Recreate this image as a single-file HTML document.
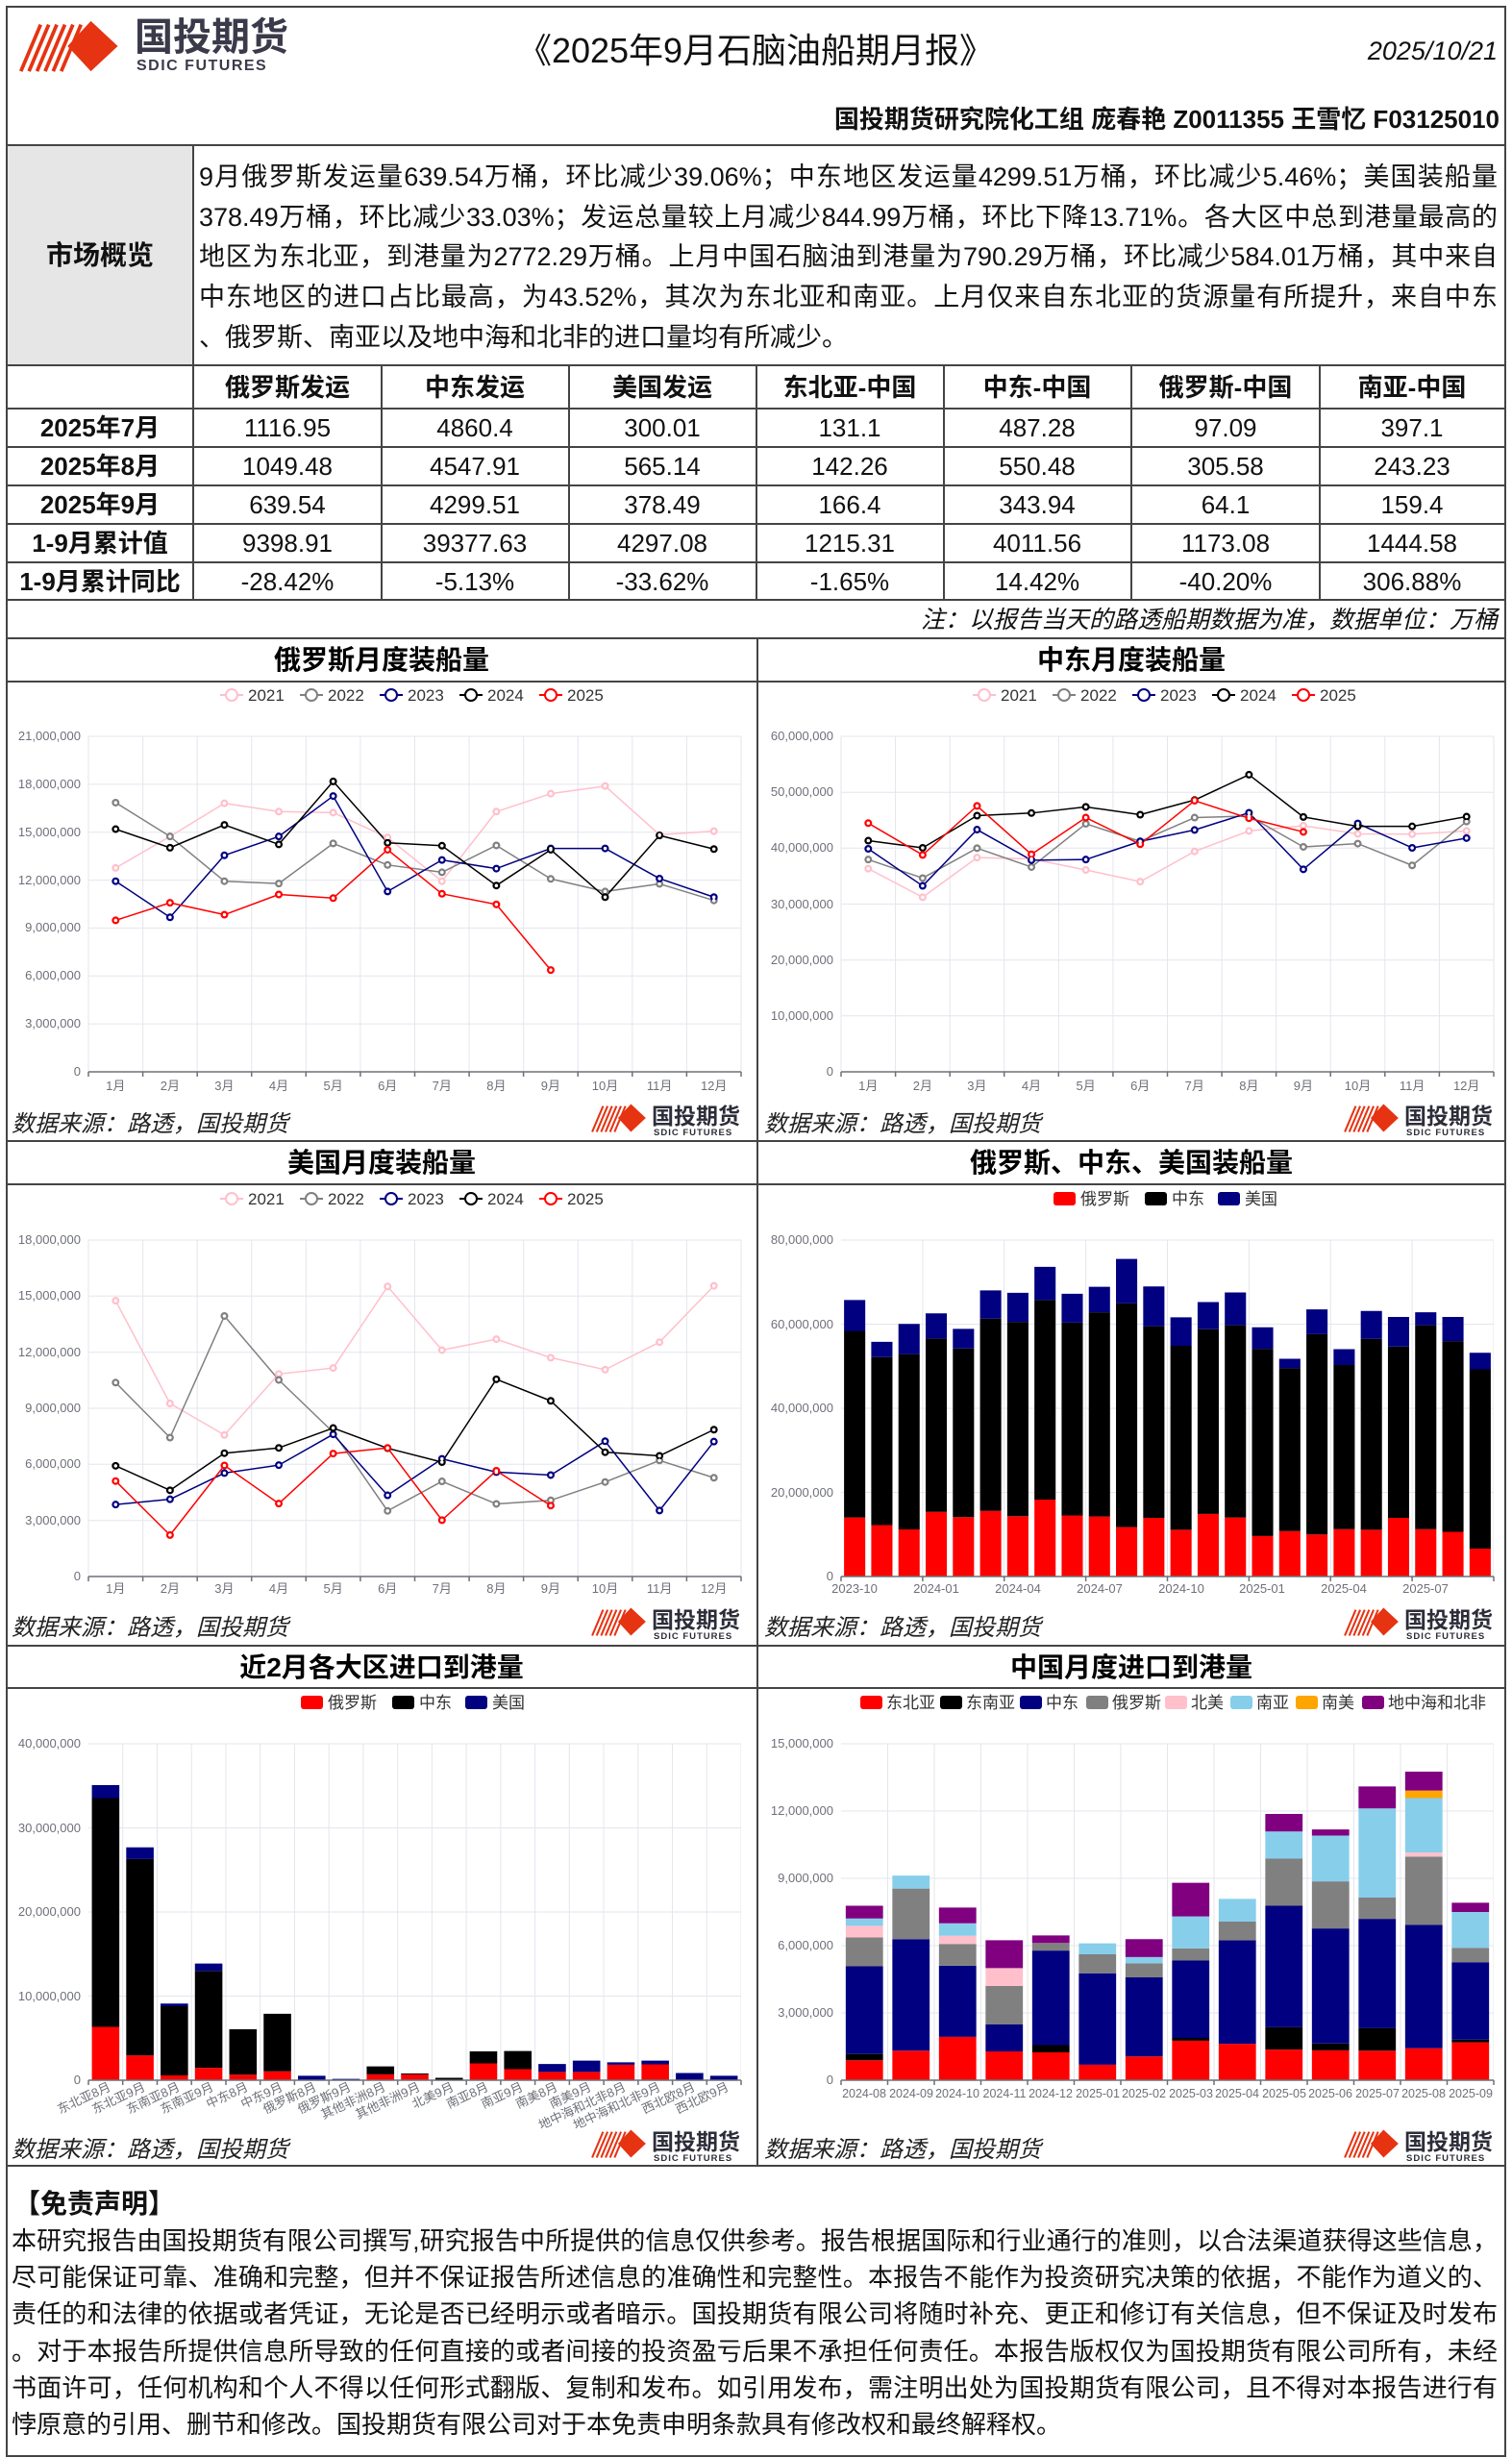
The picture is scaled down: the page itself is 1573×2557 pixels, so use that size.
<!DOCTYPE html>
<html><head><meta charset="utf-8">
<style>
html,body{margin:0;padding:0;background:#fff;}
body{width:1573px;height:2557px;position:relative;overflow:hidden;font-family:"Liberation Sans","Noto Sans CJK SC",sans-serif;}
svg text{font-family:"Liberation Sans","Noto Sans CJK SC",sans-serif;}
.ax{font-size:13px;fill:#6e7079;}
.lg{font-size:17px;fill:#333;}
.tt{font-size:28px;font-weight:bold;fill:#000;}
.src{font-size:24px;font-style:italic;fill:#222;}
.tb{font-size:26px;fill:#111;}
.tbb{font-size:26px;fill:#111;font-weight:bold;}
.ln{fill:none;stroke-width:1.5;vector-effect:non-scaling-stroke;stroke-linejoin:round;}
.mk{fill:none;stroke-width:8;stroke-linecap:round;vector-effect:non-scaling-stroke;}
.mw{fill:none;stroke:#fff;stroke-width:3.5;stroke-linecap:round;vector-effect:non-scaling-stroke;}
.vg{stroke:#e4e6ee;stroke-width:1;vector-effect:non-scaling-stroke;fill:none;}
.jl{position:absolute;white-space:nowrap;text-align:justify;text-align-last:justify;color:#111;}
</style></head><body>
<svg width="1573" height="2557" style="position:absolute;left:0;top:0">
<defs>
<symbol id="lgo" viewBox="0 0 120 60">
<g stroke="#e63312" stroke-width="4">
<line x1="4" y1="58" x2="26" y2="6"/><line x1="13" y1="58" x2="35" y2="6"/><line x1="22" y1="58" x2="44" y2="6"/><line x1="31" y1="58" x2="53" y2="6"/><line x1="40" y1="58" x2="62" y2="6"/><line x1="49" y1="58" x2="71" y2="6"/>
</g>
<polygon points="82,2 112,30 82,58 56,30" fill="#e63312"/>
</symbol>
<g id="plogo">
<use href="#lgo" x="0" y="0" width="62" height="32"/>
<text x="64" y="22" style="font-size:23px;font-weight:bold;fill:#2d2d3a">国投期货</text>
<text x="66" y="34" style="font-size:9.5px;font-weight:bold;fill:#2d2d3a;letter-spacing:1px">SDIC FUTURES</text>
</g>
</defs>

<!-- header -->
<use href="#lgo" x="18" y="20" width="112" height="56"/>
<text x="140" y="52" style="font-size:40px;font-weight:bold;fill:#3a3a4a">国投期货</text>
<text x="142" y="73" style="font-size:16px;font-weight:bold;fill:#3a3a4a;letter-spacing:1.5px">SDIC FUTURES</text>
<text x="786" y="65" text-anchor="middle" style="font-size:36px;fill:#111">《2025年9月石脑油船期月报》</text>
<text x="1558" y="62" text-anchor="end" style="font-size:27px;font-style:italic;fill:#111">2025/10/21</text>
<text x="1560" y="133" text-anchor="end" style="font-size:26px;font-weight:bold;fill:#111">国投期货研究院化工组 庞春艳 Z0011355 王雪忆 F03125010</text>

<!-- overview bg -->
<rect x="7" y="151" width="194" height="229" fill="#e6e6e6"/>
<text x="104" y="275" text-anchor="middle" style="font-size:28px;font-weight:bold;fill:#111">市场概览</text>

<!-- table -->
<g text-anchor="middle">
<g class="tbb">
<text x="299" y="412">俄罗斯发运</text><text x="494" y="412">中东发运</text><text x="689" y="412">美国发运</text><text x="884" y="412">东北亚-中国</text><text x="1079" y="412">中东-中国</text><text x="1275" y="412">俄罗斯-中国</text><text x="1469" y="412">南亚-中国</text>
<text x="104" y="454">2025年7月</text><text x="104" y="494">2025年8月</text><text x="104" y="534">2025年9月</text><text x="104" y="574">1-9月累计值</text><text x="104" y="614">1-9月累计同比</text>
</g>
<g class="tb">
<text x="299" y="454">1116.95</text><text x="494" y="454">4860.4</text><text x="689" y="454">300.01</text><text x="884" y="454">131.1</text><text x="1079" y="454">487.28</text><text x="1275" y="454">97.09</text><text x="1469" y="454">397.1</text>
<text x="299" y="494">1049.48</text><text x="494" y="494">4547.91</text><text x="689" y="494">565.14</text><text x="884" y="494">142.26</text><text x="1079" y="494">550.48</text><text x="1275" y="494">305.58</text><text x="1469" y="494">243.23</text>
<text x="299" y="534">639.54</text><text x="494" y="534">4299.51</text><text x="689" y="534">378.49</text><text x="884" y="534">166.4</text><text x="1079" y="534">343.94</text><text x="1275" y="534">64.1</text><text x="1469" y="534">159.4</text>
<text x="299" y="574">9398.91</text><text x="494" y="574">39377.63</text><text x="689" y="574">4297.08</text><text x="884" y="574">1215.31</text><text x="1079" y="574">4011.56</text><text x="1275" y="574">1173.08</text><text x="1469" y="574">1444.58</text>
<text x="299" y="614">-28.42%</text><text x="494" y="614">-5.13%</text><text x="689" y="614">-33.62%</text><text x="884" y="614">-1.65%</text><text x="1079" y="614">14.42%</text><text x="1275" y="614">-40.20%</text><text x="1469" y="614">306.88%</text>
</g>
</g>
<text x="1558" y="653" text-anchor="end" style="font-size:25px;font-style:italic;fill:#111">注：以报告当天的路透船期数据为准，数据单位：万桶</text>

<!-- borders -->
<g stroke="#444" stroke-width="2" fill="none">
<rect x="7" y="7" width="1559" height="2548"/>
<line x1="7" y1="151" x2="1566" y2="151"/>
<line x1="7" y1="380" x2="1566" y2="380"/>
<line x1="7" y1="425" x2="1566" y2="425"/>
<line x1="7" y1="465" x2="1566" y2="465"/>
<line x1="7" y1="505" x2="1566" y2="505"/>
<line x1="7" y1="545" x2="1566" y2="545"/>
<line x1="7" y1="585" x2="1566" y2="585"/>
<line x1="7" y1="624" x2="1566" y2="624"/>
<line x1="7" y1="664" x2="1566" y2="664"/>
<line x1="7" y1="709" x2="1566" y2="709"/>
<line x1="7" y1="1187" x2="1566" y2="1187"/>
<line x1="7" y1="1232" x2="1566" y2="1232"/>
<line x1="7" y1="1712" x2="1566" y2="1712"/>
<line x1="7" y1="1756" x2="1566" y2="1756"/>
<line x1="7" y1="2253" x2="1566" y2="2253"/>
<line x1="201" y1="151" x2="201" y2="624"/>
<line x1="397" y1="380" x2="397" y2="624"/><line x1="592" y1="380" x2="592" y2="624"/><line x1="787" y1="380" x2="787" y2="624"/><line x1="982" y1="380" x2="982" y2="624"/><line x1="1177" y1="380" x2="1177" y2="624"/><line x1="1373" y1="380" x2="1373" y2="624"/>
<line x1="788" y1="664" x2="788" y2="2253"/>
</g>

<!-- titles -->
<g text-anchor="middle" class="tt">
<text x="397" y="696">俄罗斯月度装船量</text><text x="1177" y="696">中东月度装船量</text>
<text x="397" y="1219">美国月度装船量</text><text x="1177" y="1219">俄罗斯、中东、美国装船量</text>
<text x="397" y="1744">近2月各大区进口到港量</text><text x="1177" y="1744">中国月度进口到港量</text>
</g>
<!-- sources & logos -->
<g class="src">
<text x="12" y="1177">数据来源：路透，国投期货</text><text x="795" y="1177">数据来源：路透，国投期货</text>
<text x="12" y="1701">数据来源：路透，国投期货</text><text x="795" y="1701">数据来源：路透，国投期货</text>
<text x="12" y="2244">数据来源：路透，国投期货</text><text x="795" y="2244">数据来源：路透，国投期货</text>
</g>
<use href="#plogo" x="614" y="1147"/><use href="#plogo" x="1397" y="1147"/>
<use href="#plogo" x="614" y="1671"/><use href="#plogo" x="1397" y="1671"/>
<use href="#plogo" x="614" y="2214"/><use href="#plogo" x="1397" y="2214"/>

<!-- line legends -->
<g id="leg1">
<g fill="#fff" stroke-width="2">
<line x1="229" y1="723" x2="253" y2="723" stroke="#ffc0cb"/><circle cx="241" cy="723" r="6" stroke="#ffc0cb"/>
<line x1="312" y1="723" x2="336" y2="723" stroke="#808080"/><circle cx="324" cy="723" r="6" stroke="#808080"/>
<line x1="395" y1="723" x2="419" y2="723" stroke="#000080"/><circle cx="407" cy="723" r="6" stroke="#000080"/>
<line x1="478" y1="723" x2="502" y2="723" stroke="#000"/><circle cx="490" cy="723" r="6" stroke="#000"/>
<line x1="561" y1="723" x2="585" y2="723" stroke="#f00"/><circle cx="573" cy="723" r="6" stroke="#f00"/>
</g>
<g class="lg"><text x="258" y="729">2021</text><text x="341" y="729">2022</text><text x="424" y="729">2023</text><text x="507" y="729">2024</text><text x="590" y="729">2025</text></g>
</g>
<use href="#leg1" x="783" y="0"/>
<use href="#leg1" x="0" y="524"/>

<!-- bar legends -->
<g class="lg">
<rect x="1096" y="1240" width="23" height="14" rx="3" fill="#f00"/><text x="1124" y="1253">俄罗斯</text>
<rect x="1191" y="1240" width="23" height="14" rx="3" fill="#000"/><text x="1219" y="1253">中东</text>
<rect x="1267" y="1240" width="23" height="14" rx="3" fill="#000080"/><text x="1295" y="1253">美国</text>
<rect x="313" y="1764" width="23" height="14" rx="3" fill="#f00"/><text x="341" y="1777">俄罗斯</text>
<rect x="408" y="1764" width="23" height="14" rx="3" fill="#000"/><text x="436" y="1777">中东</text>
<rect x="484" y="1764" width="23" height="14" rx="3" fill="#000080"/><text x="512" y="1777">美国</text>
<rect x="895" y="1764" width="23" height="14" rx="3" fill="#f00"/><text x="922" y="1777">东北亚</text>
<rect x="978" y="1764" width="23" height="14" rx="3" fill="#000"/><text x="1005" y="1777">东南亚</text>
<rect x="1061" y="1764" width="23" height="14" rx="3" fill="#000080"/><text x="1088" y="1777">中东</text>
<rect x="1130" y="1764" width="23" height="14" rx="3" fill="#808080"/><text x="1157" y="1777">俄罗斯</text>
<rect x="1212" y="1764" width="23" height="14" rx="3" fill="#ffc0cb"/><text x="1239" y="1777">北美</text>
<rect x="1280" y="1764" width="23" height="14" rx="3" fill="#87ceeb"/><text x="1307" y="1777">南亚</text>
<rect x="1348" y="1764" width="23" height="14" rx="3" fill="#ffa500"/><text x="1375" y="1777">南美</text>
<rect x="1417" y="1764" width="23" height="14" rx="3" fill="#800080"/><text x="1444" y="1777">地中海和北非</text>
</g>

<!-- horizontal grids -->
<g stroke="#e4e6ee" stroke-width="1">
<path d="M92 766H771M92 815.9H771M92 865.7H771M92 915.6H771M92 965.4H771M92 1015.3H771M92 1065.1H771"/>
<path d="M875 766H1554M875 824.2H1554M875 882.3H1554M875 940.5H1554M875 998.7H1554M875 1056.8H1554"/>
<path d="M92 1290H771M92 1348.3H771M92 1406.7H771M92 1465H771M92 1523.3H771M92 1581.7H771"/>
<path d="M875 1290H1554M875 1377.5H1554M875 1465H1554M875 1552.5H1554"/>
<path d="M92 1814H771M92 1901.5H771M92 1989H771M92 2076.5H771"/>
<path d="M875 1814H1554M875 1884H1554M875 1954H1554M875 2024H1554M875 2094H1554"/>
</g>

<!-- y labels -->
<g class="ax" text-anchor="end">
<text x="84" y="770">21,000,000</text><text x="84" y="820">18,000,000</text><text x="84" y="870">15,000,000</text><text x="84" y="920">12,000,000</text><text x="84" y="969">9,000,000</text><text x="84" y="1019">6,000,000</text><text x="84" y="1069">3,000,000</text><text x="84" y="1119">0</text>
<text x="867" y="770">60,000,000</text><text x="867" y="828">50,000,000</text><text x="867" y="886">40,000,000</text><text x="867" y="945">30,000,000</text><text x="867" y="1003">20,000,000</text><text x="867" y="1061">10,000,000</text><text x="867" y="1119">0</text>
<text x="84" y="1294">18,000,000</text><text x="84" y="1352">15,000,000</text><text x="84" y="1411">12,000,000</text><text x="84" y="1469">9,000,000</text><text x="84" y="1527">6,000,000</text><text x="84" y="1586">3,000,000</text><text x="84" y="1644">0</text>
<text x="867" y="1294">80,000,000</text><text x="867" y="1382">60,000,000</text><text x="867" y="1469">40,000,000</text><text x="867" y="1557">20,000,000</text><text x="867" y="1644">0</text>
<text x="84" y="1818">40,000,000</text><text x="84" y="1906">30,000,000</text><text x="84" y="1993">20,000,000</text><text x="84" y="2081">10,000,000</text><text x="84" y="2168">0</text>
<text x="867" y="1818">15,000,000</text><text x="867" y="1888">12,000,000</text><text x="867" y="1958">9,000,000</text><text x="867" y="2028">6,000,000</text><text x="867" y="2098">3,000,000</text><text x="867" y="2168">0</text>
</g>

<!-- month labels -->
<g id="mon" class="ax" text-anchor="middle">
<text x="120.3" y="1134">1月</text><text x="176.9" y="1134">2月</text><text x="233.4" y="1134">3月</text><text x="290" y="1134">4月</text><text x="346.6" y="1134">5月</text><text x="403.2" y="1134">6月</text><text x="459.8" y="1134">7月</text><text x="516.4" y="1134">8月</text><text x="572.9" y="1134">9月</text><text x="629.5" y="1134">10月</text><text x="686.1" y="1134">11月</text><text x="742.7" y="1134">12月</text>
</g>
<use href="#mon" x="783" y="0"/>
<use href="#mon" x="0" y="523"/>
<g class="ax" text-anchor="middle">
<text x="889" y="1657">2023-10</text><text x="974" y="1657">2024-01</text><text x="1059" y="1657">2024-04</text><text x="1144" y="1657">2024-07</text><text x="1229" y="1657">2024-10</text><text x="1313" y="1657">2025-01</text><text x="1398" y="1657">2025-04</text><text x="1483" y="1657">2025-07</text>
</g>
<g style="font-size:12.5px;fill:#6e7079" text-anchor="middle">
<text x="899" y="2182">2024-08</text><text x="948" y="2182">2024-09</text><text x="996" y="2182">2024-10</text><text x="1045" y="2182">2024-11</text><text x="1093" y="2182">2024-12</text><text x="1142" y="2182">2025-01</text><text x="1190" y="2182">2025-02</text><text x="1239" y="2182">2025-03</text><text x="1287" y="2182">2025-04</text><text x="1336" y="2182">2025-05</text><text x="1384" y="2182">2025-06</text><text x="1433" y="2182">2025-07</text><text x="1481" y="2182">2025-08</text><text x="1530" y="2182">2025-09</text>
</g>
<g class="ax" text-anchor="end">
<text transform="translate(116,2174) rotate(-25)">东北亚8月</text>
<text transform="translate(152,2174) rotate(-25)">东北亚9月</text>
<text transform="translate(188,2174) rotate(-25)">东南亚8月</text>
<text transform="translate(223,2174) rotate(-25)">东南亚9月</text>
<text transform="translate(259,2174) rotate(-25)">中东8月</text>
<text transform="translate(295,2174) rotate(-25)">中东9月</text>
<text transform="translate(330,2174) rotate(-25)">俄罗斯8月</text>
<text transform="translate(366,2174) rotate(-25)">俄罗斯9月</text>
<text transform="translate(402,2174) rotate(-25)">其他非洲8月</text>
<text transform="translate(438,2174) rotate(-25)">其他非洲9月</text>
<text transform="translate(473,2174) rotate(-25)">北美9月</text>
<text transform="translate(509,2174) rotate(-25)">南亚8月</text>
<text transform="translate(545,2174) rotate(-25)">南亚9月</text>
<text transform="translate(581,2174) rotate(-25)">南美8月</text>
<text transform="translate(616,2174) rotate(-25)">南美9月</text>
<text transform="translate(652,2174) rotate(-25)">地中海和北非8月</text>
<text transform="translate(688,2174) rotate(-25)">地中海和北非9月</text>
<text transform="translate(724,2174) rotate(-25)">西北欧8月</text>
<text transform="translate(759,2174) rotate(-25)">西北欧9月</text>
</g>

<!-- Russia line chart -->
<svg x="92" y="766" width="679" height="349" viewBox="0 338 12 1012" preserveAspectRatio="none" overflow="visible">
<path class="vg" d="M0 338V1350M1 338V1350M2 338V1350M3 338V1350M4 338V1350M5 338V1350M6 338V1350M7 338V1350M8 338V1350M9 338V1350M10 338V1350M11 338V1350M12 338V1350"/>
<polyline class="ln" stroke="#ffc0cb" points="0.5,735 1.5,640 2.5,540 3.5,565 4.5,568 5.5,643 6.5,775 7.5,565 8.5,511 9.5,488 10.5,635 11.5,624"/>
<polyline class="ln" stroke="#808080" points="0.5,538 1.5,640 2.5,775 3.5,782 4.5,661 5.5,726 6.5,748 7.5,667 8.5,768 9.5,806 10.5,783 11.5,833"/>
<polyline class="ln" stroke="#000080" points="0.5,775 1.5,884 2.5,697 3.5,640 4.5,518 5.5,806 6.5,711 7.5,737 8.5,676 9.5,676 10.5,767 11.5,823"/>
<polyline class="ln" stroke="#000" points="0.5,618 1.5,674 2.5,605 3.5,664 4.5,474 5.5,659 6.5,668 7.5,788 8.5,680 9.5,823 10.5,637 11.5,678"/>
<polyline class="ln" stroke="#f00" points="0.5,893 1.5,840 2.5,876 3.5,815 4.5,826 5.5,680 6.5,813 7.5,845 8.5,1043"/>
<path class="mk" stroke="#ffc0cb" d="M0.5 735h0M1.5 640h0M2.5 540h0M3.5 565h0M4.5 568h0M5.5 643h0M6.5 775h0M7.5 565h0M8.5 511h0M9.5 488h0M10.5 635h0M11.5 624h0"/>
<path class="mk" stroke="#808080" d="M0.5 538h0M1.5 640h0M2.5 775h0M3.5 782h0M4.5 661h0M5.5 726h0M6.5 748h0M7.5 667h0M8.5 768h0M9.5 806h0M10.5 783h0M11.5 833h0"/>
<path class="mk" stroke="#000080" d="M0.5 775h0M1.5 884h0M2.5 697h0M3.5 640h0M4.5 518h0M5.5 806h0M6.5 711h0M7.5 737h0M8.5 676h0M9.5 676h0M10.5 767h0M11.5 823h0"/>
<path class="mk" stroke="#000" d="M0.5 618h0M1.5 674h0M2.5 605h0M3.5 664h0M4.5 474h0M5.5 659h0M6.5 668h0M7.5 788h0M8.5 680h0M9.5 823h0M10.5 637h0M11.5 678h0"/>
<path class="mk" stroke="#f00" d="M0.5 893h0M1.5 840h0M2.5 876h0M3.5 815h0M4.5 826h0M5.5 680h0M6.5 813h0M7.5 845h0M8.5 1043h0"/>
<path class="mw" d="M0.5 735h0M1.5 640h0M2.5 540h0M3.5 565h0M4.5 568h0M5.5 643h0M6.5 775h0M7.5 565h0M8.5 511h0M9.5 488h0M10.5 635h0M11.5 624h0M0.5 538h0M1.5 640h0M2.5 775h0M3.5 782h0M4.5 661h0M5.5 726h0M6.5 748h0M7.5 667h0M8.5 768h0M9.5 806h0M10.5 783h0M11.5 833h0M0.5 775h0M1.5 884h0M2.5 697h0M3.5 640h0M4.5 518h0M5.5 806h0M6.5 711h0M7.5 737h0M8.5 676h0M9.5 676h0M10.5 767h0M11.5 823h0M0.5 618h0M1.5 674h0M2.5 605h0M3.5 664h0M4.5 474h0M5.5 659h0M6.5 668h0M7.5 788h0M8.5 680h0M9.5 823h0M10.5 637h0M11.5 678h0M0.5 893h0M1.5 840h0M2.5 876h0M3.5 815h0M4.5 826h0M5.5 680h0M6.5 813h0M7.5 845h0M8.5 1043h0"/>
</svg>

<!-- Middle East line chart -->
<svg x="875" y="766" width="679" height="349" viewBox="0 313 12 1032" preserveAspectRatio="none" overflow="visible">
<path class="vg" d="M0 313V1345M1 313V1345M2 313V1345M3 313V1345M4 313V1345M5 313V1345M6 313V1345M7 313V1345M8 313V1345M9 313V1345M10 313V1345M11 313V1345M12 313V1345"/>
<polyline class="ln" stroke="#ffc0cb" points="0.5,720 1.5,808 2.5,686 3.5,690 4.5,724 5.5,760 6.5,667 7.5,604 8.5,588 9.5,613 10.5,614 11.5,604"/>
<polyline class="ln" stroke="#808080" points="0.5,692 1.5,749 2.5,657 3.5,715 4.5,582 5.5,636 6.5,563 7.5,558 8.5,653 9.5,643 10.5,710 11.5,575"/>
<polyline class="ln" stroke="#000080" points="0.5,659 1.5,773 2.5,600 3.5,694 4.5,692 5.5,636 6.5,601 7.5,548 8.5,722 9.5,581 10.5,656 11.5,626"/>
<polyline class="ln" stroke="#000" points="0.5,634 1.5,656 2.5,557 3.5,549 4.5,530 5.5,554 6.5,509 7.5,431 8.5,561 9.5,590 10.5,590 11.5,560"/>
<polyline class="ln" stroke="#f00" points="0.5,580 1.5,678 2.5,527 3.5,676 4.5,563 5.5,645 6.5,511 7.5,565 8.5,607"/>
<path class="mk" stroke="#ffc0cb" d="M0.5 720h0M1.5 808h0M2.5 686h0M3.5 690h0M4.5 724h0M5.5 760h0M6.5 667h0M7.5 604h0M8.5 588h0M9.5 613h0M10.5 614h0M11.5 604h0"/>
<path class="mk" stroke="#808080" d="M0.5 692h0M1.5 749h0M2.5 657h0M3.5 715h0M4.5 582h0M5.5 636h0M6.5 563h0M7.5 558h0M8.5 653h0M9.5 643h0M10.5 710h0M11.5 575h0"/>
<path class="mk" stroke="#000080" d="M0.5 659h0M1.5 773h0M2.5 600h0M3.5 694h0M4.5 692h0M5.5 636h0M6.5 601h0M7.5 548h0M8.5 722h0M9.5 581h0M10.5 656h0M11.5 626h0"/>
<path class="mk" stroke="#000" d="M0.5 634h0M1.5 656h0M2.5 557h0M3.5 549h0M4.5 530h0M5.5 554h0M6.5 509h0M7.5 431h0M8.5 561h0M9.5 590h0M10.5 590h0M11.5 560h0"/>
<path class="mk" stroke="#f00" d="M0.5 580h0M1.5 678h0M2.5 527h0M3.5 676h0M4.5 563h0M5.5 645h0M6.5 511h0M7.5 565h0M8.5 607h0"/>
<path class="mw" d="M0.5 720h0M1.5 808h0M2.5 686h0M3.5 690h0M4.5 724h0M5.5 760h0M6.5 667h0M7.5 604h0M8.5 588h0M9.5 613h0M10.5 614h0M11.5 604h0M0.5 692h0M1.5 749h0M2.5 657h0M3.5 715h0M4.5 582h0M5.5 636h0M6.5 563h0M7.5 558h0M8.5 653h0M9.5 643h0M10.5 710h0M11.5 575h0M0.5 659h0M1.5 773h0M2.5 600h0M3.5 694h0M4.5 692h0M5.5 636h0M6.5 601h0M7.5 548h0M8.5 722h0M9.5 581h0M10.5 656h0M11.5 626h0M0.5 634h0M1.5 656h0M2.5 557h0M3.5 549h0M4.5 530h0M5.5 554h0M6.5 509h0M7.5 431h0M8.5 561h0M9.5 590h0M10.5 590h0M11.5 560h0M0.5 580h0M1.5 678h0M2.5 527h0M3.5 676h0M4.5 563h0M5.5 645h0M6.5 511h0M7.5 565h0M8.5 607h0"/>
</svg>

<!-- US line chart -->
<svg x="92" y="1290" width="679" height="350" viewBox="0 320 12 1015" preserveAspectRatio="none" overflow="visible">
<path class="vg" d="M0 320V1335M1 320V1335M2 320V1335M3 320V1335M4 320V1335M5 320V1335M6 320V1335M7 320V1335M8 320V1335M9 320V1335M10 320V1335M11 320V1335M12 320V1335"/>
<polyline class="ln" stroke="#ffc0cb" points="0.5,503 1.5,813 2.5,908 3.5,724 4.5,706 5.5,460 6.5,652 7.5,619 8.5,675 9.5,711 10.5,628 11.5,458"/>
<polyline class="ln" stroke="#808080" points="0.5,750 1.5,916 2.5,549 3.5,742 4.5,900 5.5,1137 6.5,1048 7.5,1116 8.5,1105 9.5,1050 10.5,985 11.5,1037"/>
<polyline class="ln" stroke="#000080" points="0.5,1118 1.5,1102 2.5,1023 3.5,999 4.5,906 5.5,1090 6.5,980 7.5,1020 8.5,1029 9.5,927 10.5,1136 11.5,928"/>
<polyline class="ln" stroke="#000" points="0.5,1001 1.5,1075 2.5,963 3.5,947 4.5,887 5.5,948 6.5,990 7.5,740 8.5,805 9.5,960 10.5,971 11.5,892"/>
<polyline class="ln" stroke="#f00" points="0.5,1047 1.5,1210 2.5,1000 3.5,1115 4.5,964 5.5,947 6.5,1165 7.5,1016 8.5,1121"/>
<path class="mk" stroke="#ffc0cb" d="M0.5 503h0M1.5 813h0M2.5 908h0M3.5 724h0M4.5 706h0M5.5 460h0M6.5 652h0M7.5 619h0M8.5 675h0M9.5 711h0M10.5 628h0M11.5 458h0"/>
<path class="mk" stroke="#808080" d="M0.5 750h0M1.5 916h0M2.5 549h0M3.5 742h0M5.5 1137h0M6.5 1048h0M7.5 1116h0M8.5 1105h0M9.5 1050h0M10.5 985h0M11.5 1037h0"/>
<path class="mk" stroke="#000080" d="M0.5 1118h0M1.5 1102h0M2.5 1023h0M3.5 999h0M4.5 906h0M5.5 1090h0M6.5 980h0M7.5 1020h0M8.5 1029h0M9.5 927h0M10.5 1136h0M11.5 928h0"/>
<path class="mk" stroke="#000" d="M0.5 1001h0M1.5 1075h0M2.5 963h0M3.5 947h0M4.5 887h0M5.5 948h0M6.5 990h0M7.5 740h0M8.5 805h0M9.5 960h0M10.5 971h0M11.5 892h0"/>
<path class="mk" stroke="#f00" d="M0.5 1047h0M1.5 1210h0M2.5 1000h0M3.5 1115h0M4.5 964h0M5.5 947h0M6.5 1165h0M7.5 1016h0M8.5 1121h0"/>
<path class="mw" d="M0.5 503h0M1.5 813h0M2.5 908h0M3.5 724h0M4.5 706h0M5.5 460h0M6.5 652h0M7.5 619h0M8.5 675h0M9.5 711h0M10.5 628h0M11.5 458h0M0.5 750h0M1.5 916h0M2.5 549h0M3.5 742h0M5.5 1137h0M6.5 1048h0M7.5 1116h0M8.5 1105h0M9.5 1050h0M10.5 985h0M11.5 1037h0M0.5 1118h0M1.5 1102h0M2.5 1023h0M3.5 999h0M4.5 906h0M5.5 1090h0M6.5 980h0M7.5 1020h0M8.5 1029h0M9.5 927h0M10.5 1136h0M11.5 928h0M0.5 1001h0M1.5 1075h0M2.5 963h0M3.5 947h0M4.5 887h0M5.5 948h0M6.5 990h0M7.5 740h0M8.5 805h0M9.5 960h0M10.5 971h0M11.5 892h0M0.5 1047h0M1.5 1210h0M2.5 1000h0M3.5 1115h0M4.5 964h0M5.5 947h0M6.5 1165h0M7.5 1016h0M8.5 1121h0"/>
</svg>

<!-- Russia/ME/US stacked bars -->
<svg x="875" y="1290" width="679" height="350" viewBox="0 320 24 1015" preserveAspectRatio="none">
<path class="vg" d="M3 320V1335M6 320V1335M9 320V1335M12 320V1335M15 320V1335M18 320V1335M21 320V1335M24 320V1335"/>
<path fill="#f00" d="M0.11 1157h.78V1335h-.78ZM1.11 1180h.78V1335h-.78ZM2.11 1193h.78V1335h-.78ZM3.11 1140h.78V1335h-.78ZM4.11 1156h.78V1335h-.78ZM5.11 1137h.78V1335h-.78ZM6.11 1153h.78V1335h-.78ZM7.11 1103h.78V1335h-.78ZM8.11 1151h.78V1335h-.78ZM9.11 1154h.78V1335h-.78ZM10.11 1186h.78V1335h-.78ZM11.11 1158h.78V1335h-.78ZM12.11 1194h.78V1335h-.78ZM13.11 1146h.78V1335h-.78ZM14.11 1157h.78V1335h-.78ZM15.11 1213h.78V1335h-.78ZM16.11 1198h.78V1335h-.78ZM17.11 1208h.78V1335h-.78ZM18.11 1192h.78V1335h-.78ZM19.11 1194h.78V1335h-.78ZM20.11 1158h.78V1335h-.78ZM21.11 1192h.78V1335h-.78ZM22.11 1200h.78V1335h-.78ZM23.11 1251h.78V1335h-.78Z"/>
<path fill="#000" d="M0.11 594h.78V1157h-.78ZM1.11 673h.78V1180h-.78ZM2.11 664h.78V1193h-.78ZM3.11 617h.78V1140h-.78ZM4.11 647h.78V1156h-.78ZM5.11 557h.78V1137h-.78ZM6.11 567h.78V1153h-.78ZM7.11 501h.78V1103h-.78ZM8.11 569h.78V1151h-.78ZM9.11 538h.78V1154h-.78ZM10.11 511h.78V1186h-.78ZM11.11 580h.78V1158h-.78ZM12.11 639h.78V1194h-.78ZM13.11 589h.78V1146h-.78ZM14.11 577h.78V1157h-.78ZM15.11 648h.78V1213h-.78ZM16.11 706h.78V1198h-.78ZM17.11 604h.78V1208h-.78ZM18.11 697h.78V1192h-.78ZM19.11 618h.78V1194h-.78ZM20.11 641h.78V1158h-.78ZM21.11 577h.78V1192h-.78ZM22.11 625h.78V1200h-.78ZM23.11 710h.78V1251h-.78Z"/>
<path fill="#000080" d="M0.11 501h.78V594h-.78ZM1.11 627h.78V673h-.78ZM2.11 573h.78V664h-.78ZM3.11 541h.78V617h-.78ZM4.11 588h.78V647h-.78ZM5.11 472h.78V557h-.78ZM6.11 479h.78V567h-.78ZM7.11 401h.78V501h-.78ZM8.11 482h.78V569h-.78ZM9.11 461h.78V538h-.78ZM10.11 377h.78V511h-.78ZM11.11 460h.78V580h-.78ZM12.11 553h.78V639h-.78ZM13.11 507h.78V589h-.78ZM14.11 478h.78V577h-.78ZM15.11 583h.78V648h-.78ZM16.11 678h.78V706h-.78ZM17.11 529h.78V604h-.78ZM18.11 649h.78V697h-.78ZM19.11 534h.78V618h-.78ZM20.11 552h.78V641h-.78ZM21.11 538h.78V577h-.78ZM22.11 552h.78V625h-.78ZM23.11 660h.78V710h-.78Z"/>
</svg>

<!-- near 2 months by region -->
<svg x="92" y="1814" width="679" height="350" viewBox="0 320 19 978" preserveAspectRatio="none">
<path class="vg" d="M1 320V1298M2 320V1298M3 320V1298M4 320V1298M5 320V1298M6 320V1298M7 320V1298M8 320V1298M9 320V1298M10 320V1298M11 320V1298M12 320V1298M13 320V1298M14 320V1298M15 320V1298M16 320V1298M17 320V1298M18 320V1298M19 320V1298"/>
<path fill="#f00" d="M0.1 1143h.8V1298h-.8ZM1.1 1226h.8V1298h-.8ZM2.1 1284h.8V1298h-.8ZM3.1 1262h.8V1298h-.8ZM4.1 1282h.8V1298h-.8ZM5.1 1272h.8V1298h-.8ZM8.1 1281h.8V1298h-.8ZM9.1 1281h.8V1298h-.8ZM11.1 1249h.8V1298h-.8ZM12.1 1266h.8V1298h-.8ZM13.1 1274h.8V1298h-.8ZM14.1 1274h.8V1298h-.8ZM15.1 1253h.8V1298h-.8ZM16.1 1252h.8V1298h-.8Z"/>
<path fill="#000" d="M0.1 478h.8V1143h-.8ZM1.1 655h.8V1226h-.8ZM2.1 1083h.8V1284h-.8ZM3.1 980h.8V1262h-.8ZM4.1 1150h.8V1282h-.8ZM5.1 1105h.8V1272h-.8ZM8.1 1258h.8V1281h-.8ZM9.1 1278h.8V1281h-.8ZM10.1 1291h.8V1298h-.8ZM11.1 1214h.8V1249h-.8ZM12.1 1213h.8V1266h-.8Z"/>
<path fill="#000080" d="M0.1 440h.8V478h-.8ZM1.1 621h.8V655h-.8ZM2.1 1075h.8V1083h-.8ZM3.1 959h.8V980h-.8ZM6.1 1285h.8V1298h-.8ZM7.1 1294h.8V1298h-.8ZM13.1 1251h.8V1274h-.8ZM14.1 1241h.8V1274h-.8ZM15.1 1246h.8V1253h-.8ZM16.1 1241h.8V1252h-.8ZM17.1 1277h.8V1298h-.8ZM18.1 1285h.8V1298h-.8Z"/>
</svg>

<!-- China monthly -->
<svg x="875" y="1814" width="679" height="350" viewBox="0 320 14 978" preserveAspectRatio="none">
<path class="vg" d="M1 320V1298M2 320V1298M3 320V1298M4 320V1298M5 320V1298M6 320V1298M7 320V1298M8 320V1298M9 320V1298M10 320V1298M11 320V1298M12 320V1298M13 320V1298M14 320V1298"/>
<path fill="#f00" d="M0.1 1240h.8V1298h-.8ZM1.1 1212h.8V1298h-.8ZM2.1 1172h.8V1298h-.8ZM3.1 1214h.8V1298h-.8ZM4.1 1217h.8V1298h-.8ZM5.1 1253h.8V1298h-.8ZM6.1 1229h.8V1298h-.8ZM7.1 1183h.8V1298h-.8ZM8.1 1192h.8V1298h-.8ZM9.1 1209h.8V1298h-.8ZM10.1 1211h.8V1298h-.8ZM11.1 1212h.8V1298h-.8ZM12.1 1205h.8V1298h-.8ZM13.1 1188h.8V1298h-.8Z"/>
<path fill="#000" d="M0.1 1222h.8V1240h-.8ZM4.1 1196h.8V1217h-.8ZM7.1 1175h.8V1183h-.8ZM9.1 1144h.8V1209h-.8ZM10.1 1191h.8V1211h-.8ZM11.1 1146h.8V1212h-.8ZM13.1 1180h.8V1188h-.8Z"/>
<path fill="#000080" d="M0.1 967h.8V1222h-.8ZM1.1 888h.8V1212h-.8ZM2.1 965h.8V1172h-.8ZM3.1 1136h.8V1214h-.8ZM4.1 921h.8V1196h-.8ZM5.1 987h.8V1253h-.8ZM6.1 999h.8V1229h-.8ZM7.1 950h.8V1175h-.8ZM8.1 891h.8V1192h-.8ZM9.1 791h.8V1144h-.8ZM10.1 857h.8V1191h-.8ZM11.1 829h.8V1146h-.8ZM12.1 846h.8V1205h-.8ZM13.1 955h.8V1180h-.8Z"/>
<path fill="#808080" d="M0.1 883h.8V967h-.8ZM1.1 741h.8V888h-.8ZM2.1 902h.8V965h-.8ZM3.1 1024h.8V1136h-.8ZM4.1 899h.8V921h-.8ZM5.1 932h.8V987h-.8ZM6.1 958h.8V999h-.8ZM7.1 915h.8V950h-.8ZM8.1 837h.8V891h-.8ZM9.1 654h.8V791h-.8ZM10.1 720h.8V857h-.8ZM11.1 767h.8V829h-.8ZM12.1 648h.8V846h-.8ZM13.1 913h.8V955h-.8Z"/>
<path fill="#ffc0cb" d="M0.1 849h.8V883h-.8ZM2.1 878h.8V902h-.8ZM3.1 972h.8V1024h-.8ZM12.1 636h.8V648h-.8Z"/>
<path fill="#87ceeb" d="M0.1 828h.8V849h-.8ZM1.1 703h.8V741h-.8ZM2.1 842h.8V878h-.8ZM5.1 900h.8V932h-.8ZM6.1 940h.8V958h-.8ZM7.1 822h.8V915h-.8ZM8.1 771h.8V837h-.8ZM9.1 575h.8V654h-.8ZM10.1 587h.8V720h-.8ZM11.1 508h.8V767h-.8ZM12.1 478h.8V636h-.8ZM13.1 809h.8V913h-.8Z"/>
<path fill="#ffa500" d="M12.1 456h.8V478h-.8Z"/>
<path fill="#800080" d="M0.1 791h.8V828h-.8ZM2.1 796h.8V842h-.8ZM3.1 891h.8V972h-.8ZM4.1 877h.8V899h-.8ZM6.1 888h.8V940h-.8ZM7.1 724h.8V822h-.8ZM9.1 524h.8V575h-.8ZM10.1 569h.8V587h-.8ZM11.1 444h.8V508h-.8ZM12.1 401h.8V456h-.8ZM13.1 782h.8V809h-.8Z"/>
</svg>

<!-- axes -->
<g stroke="#6e7079" stroke-width="1.5" fill="none">
<path d="M92 1115H771M875 1115H1554M92 1640H771M875 1640H1554M92 2164H771M875 2164H1554"/>
<path d="M92 1115v5M148.6 1115v5M205.2 1115v5M261.7 1115v5M318.3 1115v5M374.9 1115v5M431.5 1115v5M488.1 1115v5M544.6 1115v5M601.2 1115v5M657.8 1115v5M714.4 1115v5M771 1115v5"/>
<path d="M875 1115v5M931.6 1115v5M988.2 1115v5M1044.7 1115v5M1101.3 1115v5M1157.9 1115v5M1214.5 1115v5M1271.1 1115v5M1327.6 1115v5M1384.2 1115v5M1440.8 1115v5M1497.4 1115v5M1554 1115v5"/>
<path d="M92 1640v5M148.6 1640v5M205.2 1640v5M261.7 1640v5M318.3 1640v5M374.9 1640v5M431.5 1640v5M488.1 1640v5M544.6 1640v5M601.2 1640v5M657.8 1640v5M714.4 1640v5M771 1640v5"/>
<path d="M875 1640v5M959.9 1640v5M1044.7 1640v5M1129.6 1640v5M1214.5 1640v5M1299.4 1640v5M1384.2 1640v5M1469.1 1640v5M1554 1640v5"/>
<path d="M92 2164v5M127.7 2164v5M163.5 2164v5M199.2 2164v5M235 2164v5M270.7 2164v5M306.4 2164v5M342.2 2164v5M377.9 2164v5M413.7 2164v5M449.4 2164v5M485.2 2164v5M520.9 2164v5M556.6 2164v5M592.4 2164v5M628.1 2164v5M663.9 2164v5M699.6 2164v5M735.3 2164v5M771 2164v5"/>
<path d="M875 2164v5M923.5 2164v5M972 2164v5M1020.5 2164v5M1069 2164v5M1117.5 2164v5M1166 2164v5M1214.5 2164v5M1263 2164v5M1311.5 2164v5M1360 2164v5M1408.5 2164v5M1457 2164v5M1505.5 2164v5M1554 2164v5"/>
</g>

<text x="14" y="2302" style="font-size:28px;font-weight:bold;fill:#111">【免责声明】</text>
</svg>

<div style="position:absolute;left:207px;top:164px;width:1351px;font-size:27px;line-height:41.7px;">
<div class="jl" style="position:relative;width:1351px">9月俄罗斯发运量639.54万桶，环比减少39.06%；中东地区发运量4299.51万桶，环比减少5.46%；美国装船量</div>
<div class="jl" style="position:relative;width:1351px">378.49万桶，环比减少33.03%；发运总量较上月减少844.99万桶，环比下降13.71%。各大区中总到港量最高的</div>
<div class="jl" style="position:relative;width:1351px">地区为东北亚，到港量为2772.29万桶。上月中国石脑油到港量为790.29万桶，环比减少584.01万桶，其中来自</div>
<div class="jl" style="position:relative;width:1351px">中东地区的进口占比最高，为43.52%，其次为东北亚和南亚。上月仅来自东北亚的货源量有所提升，来自中东</div>
<div style="position:relative;white-space:nowrap;color:#111">、俄罗斯、南亚以及地中海和北非的进口量均有所减少。</div>
</div>

<div style="position:absolute;left:12px;top:2312px;width:1546px;font-size:26px;line-height:38.2px;">
<div class="jl" style="position:relative;width:1546px">本研究报告由国投期货有限公司撰写,研究报告中所提供的信息仅供参考。报告根据国际和行业通行的准则，以合法渠道获得这些信息，</div>
<div class="jl" style="position:relative;width:1546px">尽可能保证可靠、准确和完整，但并不保证报告所述信息的准确性和完整性。本报告不能作为投资研究决策的依据，不能作为道义的、</div>
<div class="jl" style="position:relative;width:1546px">责任的和法律的依据或者凭证，无论是否已经明示或者暗示。国投期货有限公司将随时补充、更正和修订有关信息，但不保证及时发布</div>
<div class="jl" style="position:relative;width:1546px">。对于本报告所提供信息所导致的任何直接的或者间接的投资盈亏后果不承担任何责任。本报告版权仅为国投期货有限公司所有，未经</div>
<div class="jl" style="position:relative;width:1546px">书面许可，任何机构和个人不得以任何形式翻版、复制和发布。如引用发布，需注明出处为国投期货有限公司，且不得对本报告进行有</div>
<div style="position:relative;white-space:nowrap;color:#111">悖原意的引用、删节和修改。国投期货有限公司对于本免责申明条款具有修改权和最终解释权。</div>
</div>
</body></html>
